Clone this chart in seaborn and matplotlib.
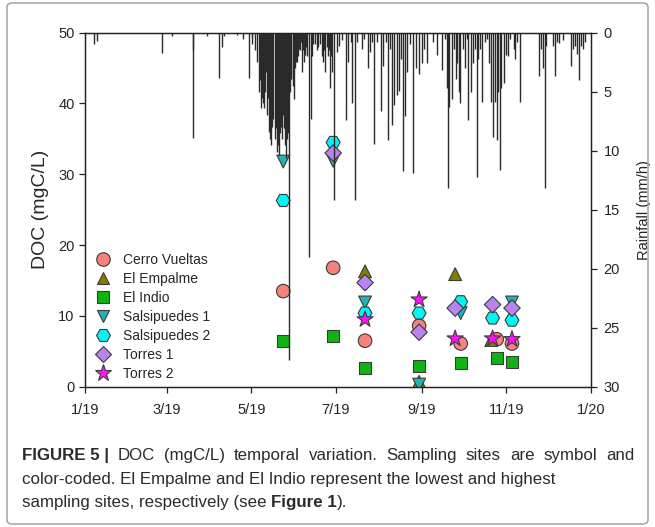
import numpy as np
import pandas as pd
import seaborn as sns
import matplotlib.pyplot as plt
from matplotlib.patches import FancyBboxPatch

# sampling sites, styles for each site
sites = ['Cerro Vueltas', 'El Empalme', 'El Indio', 'Salsipuedes 1',
         'Salsipuedes 2', 'Torres 1', 'Torres 2']
site_colors = ['#F4837D', '#7F7F00', '#10B410', '#1FB3B3',
               '#00F5F5', '#B983F0', '#FF10FF']
site_markers = ['o', '^', 's', 'v', 'H', 'D', '*']
site_sizes = [95, 85, 75, 85, 100, 70, 150]

# DOC samples (site, date, mgC/L)
doc_site = ['Cerro Vueltas'] * 7 + ['El Empalme'] * 5 + ['El Indio'] * 7 \
    + ['Salsipuedes 1'] * 6 + ['Salsipuedes 2'] * 7 + ['Torres 1'] * 6 + ['Torres 2'] * 5
doc_date = ['2019-05-24', '2019-06-29', '2019-07-22', '2019-08-30', '2019-09-29', '2019-10-25', '2019-11-05',
            '2019-05-24', '2019-07-22', '2019-08-30', '2019-09-25', '2019-10-21',
            '2019-05-24', '2019-06-29', '2019-07-22', '2019-08-30', '2019-09-29', '2019-10-25', '2019-11-05',
            '2019-05-24', '2019-06-29', '2019-07-22', '2019-08-30', '2019-09-29', '2019-11-05',
            '2019-05-24', '2019-06-29', '2019-07-22', '2019-08-30', '2019-09-29', '2019-10-22', '2019-11-05',
            '2019-06-29', '2019-07-22', '2019-08-30', '2019-09-25', '2019-10-22', '2019-11-05',
            '2019-07-22', '2019-08-30', '2019-09-25', '2019-10-22', '2019-11-05']
doc_value = [13.5, 16.8, 6.5, 8.6, 6.1, 6.7, 6.1,
             47.1, 16.3, 0.7, 15.9, 6.6,
             6.4, 7.1, 2.6, 2.9, 3.3, 4.1, 3.5,
             31.8, 31.9, 11.9, 0.3, 10.4, 11.9,
             26.3, 34.5, 10.4, 10.4, 12.0, 9.7, 9.4,
             33.0, 14.7, 7.7, 11.1, 11.6, 11.1,
             9.5, 12.3, 6.8, 6.8, 6.7]

# hourly rainfall peaks (days after 1 Jan 2019, mm/h)
rain_day = [6.5, 8.4, 55.8, 62.6, 77.8, 78.1, 87.8, 96.9, 98.6, 100.3, 109.5, 113.8,
            118.5, 120.3, 120.7, 122.7, 124.1, 125.5, 126.3, 127.0, 127.6, 128.1, 129.1,
            129.7, 130.4, 131.3, 132.0, 132.8, 133.5, 134.4, 135.1, 135.9, 136.7, 137.6,
            138.1, 138.7, 139.2, 140.0, 140.6, 141.2, 141.7, 142.3, 142.9, 143.6, 144.2,
            144.8, 145.4, 146.0, 146.7, 147.4, 148.2, 148.9, 149.7, 150.3, 150.8, 151.7,
            152.2, 152.7, 153.7, 154.4, 155.2, 156.1, 156.3, 157.3, 158.0, 158.7, 159.5,
            160.2, 161.8, 163.1, 163.9, 164.7, 165.9, 167.0, 168.3, 169.5, 170.8, 171.7,
            172.4, 173.2, 174.4, 175.3, 176.0, 176.8, 177.5, 178.2, 179.9, 181.6, 183.5,
            185.5, 188.3, 190.0, 191.7, 192.9, 195.0, 196.5, 199.6, 201.3, 204.4, 205.6,
            206.9, 208.5, 210.9, 213.6, 215.2, 217.0, 218.4, 220.1, 221.5, 223.2, 224.9,
            226.6, 227.8, 229.1, 230.9, 232.5, 234.5, 236.4, 238.8, 241.2, 242.9, 244.6,
            247.0, 250.9, 253.8, 257.4, 259.7, 261.0, 261.7, 262.8, 264.6, 266.2, 267.7,
            268.6, 270.1, 270.6, 272.5, 274.2, 275.4, 276.6, 278.2, 279.7, 281.4, 282.6,
            283.8, 285.0, 286.6, 288.6, 290.3, 291.7, 292.9, 294.2, 295.8, 297.0, 298.2,
            299.4, 300.1, 302.3, 303.8, 305.4, 306.6, 309.5, 310.2, 311.9, 313.9, 327.8,
            328.8, 330.2, 331.7, 332.6, 337.9, 339.1, 340.8, 342.2, 345.1, 350.4, 351.8,
            353.5, 355.2, 356.6, 357.9, 359.1, 360.8]
rain_mm = [1.0, 0.7, 1.75, 0.25, 1.5, 8.9, 0.25, 3.8, 1.2, 0.3, 0.2, 0.5,
           3.8, 0.4, 1.0, 1.5, 2.5, 5.0, 4.0, 6.4, 5.5, 6.0, 6.4,
           5.0, 3.3, 7.0, 5.5, 8.4, 9.0, 9.5, 8.0, 7.3, 9.0, 8.1,
           7.5, 10.1, 9.5, 10.4, 8.5, 6.7, 8.0, 9.0, 7.0, 8.1, 9.5,
           10.6, 9.0, 6.4, 8.5, 27.7, 5.0, 3.9, 4.5, 4.0, 5.6, 3.0,
           2.5, 2.5, 2.0, 1.35, 1.5, 0.8, 3.3, 1.5, 2.5, 1.9, 1.2,
           2.0, 19.0, 7.3, 2.0, 1.0, 1.0, 1.5, 1.2, 1.0, 2.0, 2.5,
           1.5, 3.3, 1.2, 2.0, 1.5, 4.7, 2.0, 3.3, 14.2, 1.6, 1.1,
           0.6, 7.4, 2.5, 0.8, 6.0, 14.2, 0.8, 1.35, 0.5, 3.0, 1.6,
           0.8, 9.4, 0.8, 6.6, 2.8, 0.8, 9.1, 1.35, 7.8, 6.1, 5.3,
           4.9, 2.2, 11.7, 7.1, 3.3, 1.0, 11.9, 3.0, 3.5, 2.6, 1.35,
           2.6, 0.8, 1.9, 3.2, 0.5, 4.7, 13.2, 6.3, 5.6, 1.35, 3.9,
           2.6, 5.0, 6.0, 1.35, 3.0, 0.5, 7.4, 5.0, 2.6, 1.35, 12.2,
           2.2, 1.35, 5.9, 0.8, 0.5, 2.6, 5.9, 8.8, 5.9, 9.1, 5.0,
           11.6, 4.7, 4.3, 1.9, 2.0, 0.5, 1.35, 2.2, 0.8, 5.9, 3.7,
           1.35, 3.0, 13.2, 1.1, 1.1, 3.7, 0.8, 0.9, 0.6, 2.8, 1.35,
           1.1, 1.8, 4.0, 1.1, 1.35, 0.8]

x_ticks = ['2019-01-01', '2019-03-01', '2019-05-01', '2019-07-01',
           '2019-09-01', '2019-11-01', '2020-01-01']
x_labels = ['1/19', '3/19', '5/19', '7/19', '9/19', '11/19', '1/20']

df = pd.DataFrame({'site': doc_site, 'date': pd.to_datetime(doc_date), 'doc': doc_value})
rain_date = pd.Timestamp('2019-01-01') + pd.to_timedelta(rain_day, unit='D')

sns.set_style('ticks')
plt.rcParams['font.family'] = ['Liberation Sans', 'DejaVu Sans']

fig = plt.figure(figsize=(6.55, 5.27), dpi=100)
ax = fig.add_axes([0.1298, 0.2662, 0.7725, 0.6718])

sns.scatterplot(data=df, x='date', y='doc', hue='site', style='site', size='site',
                hue_order=sites, style_order=sites, size_order=sites,
                palette=dict(zip(sites, site_colors)),
                markers=dict(zip(sites, site_markers)),
                sizes=dict(zip(sites, site_sizes)),
                edgecolor='#3a3a3a', linewidth=0.8, ax=ax, zorder=3)

ax.set_xlim(pd.Timestamp('2019-01-01'), pd.Timestamp('2020-01-01'))
ax.set_ylim(0, 50)
ax.set_xticks(pd.to_datetime(x_ticks))
ax.set_xticklabels(x_labels)
ax.set_yticks([0, 10, 20, 30, 40, 50])
ax.set_xlabel('')
ax.set_ylabel('DOC (mgC/L)', fontsize=14, labelpad=7)
ax.tick_params(labelsize=10.5, length=4, width=0.9, color='#222222')
ax.tick_params(axis='x', pad=8)

leg = ax.legend(loc='upper left', bbox_to_anchor=(-0.012, 0.405), frameon=False,
                fontsize=10, labelspacing=0.36, handletextpad=0.5, borderaxespad=0.3)

# rainfall on an inverted secondary axis
ax2 = ax.twinx()
ax2.vlines(rain_date, 0, rain_mm, color='#2a2a2a', linewidth=1.0)
ax2.set_ylim(30, 0)
ax2.set_yticks([0, 5, 10, 15, 20, 25, 30])
ax2.set_ylabel('Rainfall (mm/h)', fontsize=10.5, labelpad=12)
ax2.tick_params(labelsize=10.5, length=4, width=0.9, color='#222222', pad=5)
ax2.set_xlim(pd.Timestamp('2019-01-01'), pd.Timestamp('2020-01-01'))

for a in (ax, ax2):
    for sp in a.spines.values():
        sp.set_visible(True)
        sp.set_linewidth(0.9)
        sp.set_color('#222222')

# caption; the first line is justified, so its words get extra spacing
cap_lines = [[('FIGURE 5 |', 'bold')] + [(w, 'normal') for w in
              'DOC (mgC/L) temporal variation. Sampling sites are symbol and'.split()],
             [('color-coded. El Empalme and El Indio represent the lowest and highest', 'normal')],
             [('sampling sites, respectively (see ', 'normal'), ('Figure 1', 'bold'), (').', 'normal')]]
cap_gap = [6.4, 0, 0]
cap_y = [0.121, 0.076, 0.032]
for y, gap, pieces in zip(cap_y, cap_gap, cap_lines):
    prev = None
    for txt, wt in pieces:
        if prev is None:
            prev = fig.text(22 / 655, y, txt, fontsize=12.2, fontweight=wt,
                            color='#2b2b2b', va='bottom')
        else:
            prev = ax.annotate(txt, xy=(1, 0), xycoords=prev, xytext=(gap, 0),
                               textcoords='offset points', fontsize=12.2, fontweight=wt,
                               color='#2b2b2b', va='bottom', ha='left', annotation_clip=False)

# figure frame
fig.add_artist(FancyBboxPatch((7 / 655, 3 / 527), 641 / 655, 521 / 527,
                              boxstyle='round,pad=0,rounding_size=0.008',
                              transform=fig.transFigure, facecolor='none',
                              edgecolor='#9a9a9a', linewidth=1.0))

fig.savefig('out.png', dpi=100)
